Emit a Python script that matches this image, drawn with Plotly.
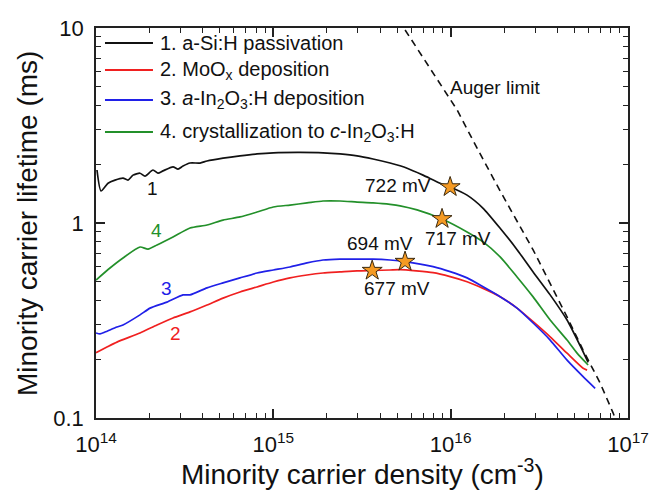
import plotly.graph_objects as go

# ---------------- data ----------------
black_n = [1.013e14, 1.067e14, 1.169e14, 1.280e14, 1.420e14, 1.515e14, 1.617e14, 1.771e14, 1.889e14, 2.096e14,
           2.237e14, 2.387e14, 2.718e14, 2.900e14, 3.095e14, 3.390e14, 3.861e14, 4.227e14, 5.205e14, 6.486e14,
           8.091e14, 1.0e15, 1.415e15, 1.906e15, 2.377e15, 2.965e15, 3.650e15, 4.552e15, 5.679e15, 6.984e15,
           8.715e15, 9.929e15, 1.237e16, 1.524e16, 1.901e16, 2.368e16, 2.917e16, 3.639e16, 4.532e16, 5.370e16,
           5.957e16]
black_tau = [1.87, 1.46, 1.60, 1.66, 1.70, 1.66, 1.76, 1.80, 1.74, 1.87,
             1.80, 1.85, 1.94, 1.89, 1.96, 2.03, 2.03, 2.08, 2.15, 2.21,
             2.26, 2.29, 2.30, 2.29, 2.26, 2.21, 2.13, 2.03, 1.91, 1.76,
             1.60, 1.53, 1.39, 1.19, 0.94, 0.73, 0.561, 0.428, 0.318, 0.235,
             0.193]

red_n = [1.0e14, 1.153e14, 1.313e14, 1.771e14, 2.208e14, 2.718e14, 3.390e14, 4.227e14, 5.205e14, 6.486e14,
         8.091e14, 1.0e15, 1.242e15, 1.549e15, 1.906e15, 2.377e15, 2.965e15, 3.650e15, 4.552e15, 5.186e15,
         7.960e15, 9.929e15, 1.237e16, 1.524e16, 1.901e16, 2.368e16, 2.917e16, 3.639e16, 4.532e16, 5.582e16,
         5.877e16]
red_tau = [0.216, 0.231, 0.245, 0.273, 0.300, 0.326, 0.350, 0.380, 0.412, 0.443,
           0.470, 0.498, 0.523, 0.541, 0.554, 0.561, 0.568, 0.571, 0.574, 0.576,
           0.556, 0.531, 0.500, 0.462, 0.419, 0.366, 0.312, 0.261, 0.215, 0.180,
           0.176]

blue_n = [1.0e14, 1.053e14, 1.124e14, 1.313e14, 1.420e14, 1.771e14, 2.017e14, 2.514e14, 3.095e14, 3.390e14,
          4.227e14, 5.205e14, 6.486e14, 8.091e14, 1.0e15, 1.242e15, 1.549e15, 1.906e15, 2.377e15, 2.965e15,
          3.650e15, 4.552e15, 5.534e15, 7.960e15, 9.929e15, 1.237e16, 1.524e16, 1.901e16, 2.368e16, 2.917e16,
          3.639e16, 4.532e16, 5.582e16, 6.527e16]
blue_tau = [0.273, 0.270, 0.276, 0.293, 0.300, 0.338, 0.366, 0.393, 0.428, 0.428,
            0.465, 0.493, 0.523, 0.554, 0.574, 0.595, 0.624, 0.646, 0.653, 0.653,
            0.653, 0.646, 0.634, 0.597, 0.563, 0.523, 0.471, 0.419, 0.366, 0.307,
            0.251, 0.198, 0.163, 0.142]

green_n = [1.0e14, 1.199e14, 1.420e14, 1.771e14, 1.964e14, 2.208e14, 2.718e14, 3.390e14, 4.227e14, 5.205e14,
           6.486e14, 8.091e14, 1.0e15, 1.242e15, 1.549e15, 1.906e15, 2.377e15, 2.965e15, 3.650e15, 4.552e15,
           5.186e15, 6.461e15, 8.937e15, 1.237e16, 1.524e16, 1.901e16, 2.368e16, 2.917e16, 3.639e16, 4.532e16,
           5.161e16, 5.957e16]
green_tau = [0.51, 0.588, 0.662, 0.753, 0.735, 0.771, 0.847, 0.942, 0.977, 1.035,
             1.074, 1.138, 1.208, 1.236, 1.267, 1.297, 1.297, 1.28, 1.267, 1.245,
             1.225, 1.167, 1.049, 0.90, 0.80, 0.67, 0.529, 0.418, 0.318, 0.251,
             0.215, 0.187]

auger_n = [5.534e15, 6.984e15, 1.087e16, 1.409e16, 1.901e16, 2.917e16, 3.639e16, 4.532e16, 5.582e16, 6.966e16,
           8.248e16, 8.45e16]
auger_tau = [9.77, 7.02, 3.80, 2.42, 1.46, 0.728, 0.492, 0.330, 0.223, 0.151,
             0.106, 0.100]

star_n = [9.93e15, 8.94e15, 5.53e15, 3.61e15]
star_tau = [1.53, 1.05, 0.634, 0.570]
star_labels = ["722 mV", "717 mV", "694 mV", "677 mV"]

series_names = ["1. a-Si:H passivation",
                "2. MoO<sub>x</sub> deposition",
                "3. <i>a</i>-In<sub>2</sub>O<sub>3</sub>:H deposition",
                "4. crystallization to <i>c</i>-In<sub>2</sub>O<sub>3</sub>:H"]
series_colors = ["#111111", "#f02020", "#2020e8", "#23902a"]
curve_numbers = ["1", "2", "3", "4"]

x_tickvals = [1e14, 1e15, 1e16, 1e17]
x_ticktext = ["10<sup>14</sup>", "10<sup>15</sup>", "10<sup>16</sup>", "10<sup>17</sup>"]
y_tickvals = [0.1, 1, 10]
y_ticktext = ["0.1", "1", "10"]
x_minor = [m * 10.0 ** e for e in (14, 15, 16) for m in range(2, 10)]
y_minor = [m * 10.0 ** e for e in (-1, 0) for m in range(2, 10)]

FONT = "Liberation Sans, Arial, sans-serif"

# ---------------- figure ----------------
fig = go.Figure()

# empty trace on overlay axes used only to draw the minor ticks
fig.add_trace(go.Scatter(x=[None], y=[None], xaxis="x2", yaxis="y2", showlegend=False,
                         hoverinfo="skip", mode="lines"))

curves = [(black_n, black_tau), (red_n, red_tau), (blue_n, blue_tau), (green_n, green_tau)]
for (xs, ys), name, col in zip(curves, series_names, series_colors):
    fig.add_trace(go.Scatter(x=xs, y=ys, mode="lines", name=name, showlegend=False,
                             line=dict(color=col, width=1.7, shape="spline", smoothing=0.6)))

fig.add_trace(go.Scatter(x=auger_n, y=auger_tau, mode="lines", showlegend=False,
                         line=dict(color="#111111", width=1.6, dash="7px,5px")))

fig.add_trace(go.Scatter(x=star_n, y=star_tau, mode="markers", showlegend=False,
                         marker=dict(symbol="star", size=15, color="#f59a23",
                                     line=dict(color="#3b2a10", width=1))))

annotations = []
# legend (drawn manually to match the line lengths)
leg_rows_y = [0.9615, 0.8923, 0.8154, 0.7333]
shapes = []
for name, col, yy in zip(series_names, series_colors, leg_rows_y):
    shapes.append(dict(type="line", xref="paper", yref="paper", x0=0.0169, x1=0.1071, y0=yy, y1=yy,
                       line=dict(color=col, width=1.8)))
    annotations.append(dict(xref="paper", yref="paper", x=0.1165, y=yy, text=name, showarrow=False,
                            xanchor="left", yanchor="middle", font=dict(size=20, color="#111111", family=FONT)))

# star labels
label_pos = [(0.5686, 0.5974), (0.6805, 0.459), (0.5338, 0.4487), (0.5667, 0.3333)]
for txt, (px, py) in zip(star_labels, label_pos):
    annotations.append(dict(xref="paper", yref="paper", x=px, y=py, text=txt, showarrow=False,
                            xanchor="center", yanchor="middle", font=dict(size=19, color="#111111", family=FONT)))

# curve numbers
num_pos = [(0.1053, 0.5897), (0.1485, 0.2179), (0.1316, 0.3333), (0.1128, 0.482)]
for txt, col, (px, py) in zip(curve_numbers, series_colors, num_pos):
    annotations.append(dict(xref="paper", yref="paper", x=px, y=py, text=txt, showarrow=False,
                            xanchor="center", yanchor="middle", font=dict(size=19, color=col, family=FONT)))

annotations.append(dict(xref="paper", yref="paper", x=0.6617, y=0.8487, text="Auger limit", showarrow=False,
                        xanchor="left", yanchor="middle", font=dict(size=19, color="#111111", family=FONT)))

# axis titles
annotations.append(dict(xref="paper", yref="paper", x=0.5, y=-0.1385,
                        text="Minority carrier density (cm<sup>-3</sup>)", showarrow=False,
                        xanchor="center", yanchor="middle", font=dict(size=28, color="#111111", family=FONT)))
annotations.append(dict(xref="paper", yref="paper", x=-0.1297, y=0.5,
                        text="Minority carrier lifetime (ms)", showarrow=False, textangle=-90,
                        xanchor="center", yanchor="middle", font=dict(size=28, color="#111111", family=FONT)))

axis_common = dict(showline=True, linecolor="#222222", linewidth=1.5, mirror="allticks",
                   ticks="inside", ticklen=9, tickwidth=1.6, tickcolor="#222222",
                   showgrid=False, zeroline=False,
                   tickfont=dict(size=22, color="#111111", family=FONT))

minor_common = dict(showline=False, mirror="allticks", ticks="inside", ticklen=5, tickwidth=1.4,
                    tickcolor="#222222", showgrid=False, zeroline=False, showticklabels=False,
                    tickmode="array")

fig.update_layout(
    xaxis=dict(type="log", range=[14, 17], tickvals=x_tickvals, ticktext=x_ticktext,
               ticklabelstandoff=6, **axis_common),
    yaxis=dict(type="log", range=[-1, 1], tickvals=y_tickvals, ticktext=y_ticktext,
               ticklabelstandoff=6, **axis_common),
    xaxis2=dict(type="log", range=[14, 17], overlaying="x", anchor="y2", side="bottom",
                tickvals=x_minor, **minor_common),
    yaxis2=dict(type="log", range=[-1, 1], overlaying="y", anchor="x2", side="left",
                tickvals=y_minor, **minor_common),
)

# the page body adds an 8px margin, so the figure is sized/offset to compensate
fig.update_layout(width=645, height=482, margin=dict(l=88, r=25, t=20, b=72, autoexpand=False),
                  paper_bgcolor="white", plot_bgcolor="white",
                  annotations=annotations, shapes=shapes, showlegend=False,
                  font=dict(family=FONT, color="#111111"))

fig.write_html("out.html")
